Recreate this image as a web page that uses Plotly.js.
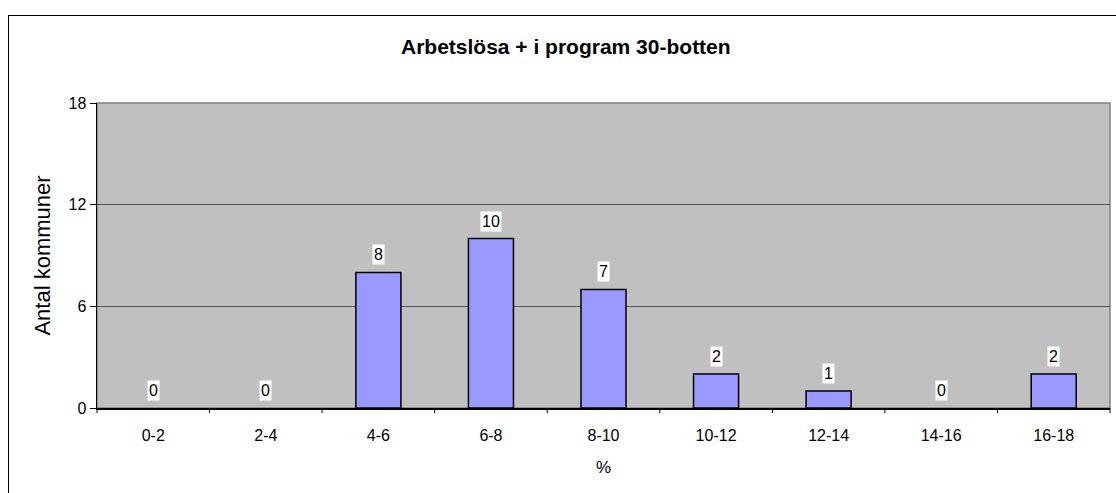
<!DOCTYPE html>
<html>
<head>
<meta charset="utf-8">
<script src="https://cdn.plot.ly/plotly-3.0.1.min.js"></script>
<style>
html,body{margin:0;padding:0;background:#fff;overflow:hidden;}
#chart{width:1116px;height:493px;position:relative;}
#frame{position:absolute;left:8px;top:15px;width:1300px;height:700px;border:1.5px solid #000;pointer-events:none;box-sizing:border-box;}
</style>
</head>
<body>
<div id="chart"></div>
<div id="frame"></div>
<script>
var categories = ["0-2","2-4","4-6","6-8","8-10","10-12","12-14","14-16","16-18"];
var counts = [0,0,8,10,7,2,1,0,2];
var yTicks = [0,6,12,18];

var FONT = 'Liberation Sans, Arial, sans-serif';

var trace = {
  type: 'bar',
  x: categories,
  y: counts,
  marker: {color: '#9999FF', line: {color: '#000', width: counts.map(function(v){ return v > 0 ? 1.5 : 0; })}},
  hoverinfo: 'none'
};

var annotations = categories.map(function(c, i){
  return {
    x: c, y: counts[i], xref: 'x', yref: 'y',
    text: String(counts[i]),
    showarrow: false,
    yanchor: 'bottom',
    yshift: 7,
    bgcolor: '#FFFFFF',
    borderpad: 1,
    font: {family: FONT, size: 16, color: '#000'}
  };
});

// small visible tick marks at the category boundaries
var tickShapes = [];
for (var b = 0; b <= categories.length; b++) {
  tickShapes.push({
    type: 'line', xref: 'paper', yref: 'paper',
    x0: b / categories.length, x1: b / categories.length,
    ysizemode: 'pixel', yanchor: 0, y0: 0, y1: -5,
    line: {color: '#000', width: 1}
  });
}

var layout = {
  width: 1116, height: 493,
  margin: {l: 97, r: 6, t: 103, b: 85},
  paper_bgcolor: '#FFFFFF',
  plot_bgcolor: '#C0C0C0',
  bargap: 0.6,
  showlegend: false,
  title: {text: '<b>Arbetslösa + i program 30-botten</b>', x: 0.507, xanchor: 'center', y: 0.905, yanchor: 'middle',
          font: {family: FONT, size: 21, color: '#000'}},
  xaxis: {
    type: 'category',
    range: [-0.5, categories.length - 0.5],
    ticks: 'outside', ticklen: 12, tickcolor: 'rgba(0,0,0,0)', tickwidth: 1,
    showline: true, linecolor: '#000', linewidth: 1.5,
    showgrid: false,
    tickfont: {family: FONT, size: 16, color: '#000'},
    title: {text: '%', font: {family: FONT, size: 17, color: '#000'}, standoff: 18}
  },
  yaxis: {
    range: [0, 18],
    tickvals: yTicks,
    ticktext: yTicks.map(String),
    ticks: 'outside', ticklen: 6, tickcolor: '#000', tickwidth: 1,
    showline: true, linecolor: '#000', linewidth: 1.5,
    showgrid: true, gridcolor: '#555555', gridwidth: 1,
    zeroline: false,
    tickfont: {family: FONT, size: 16, color: '#000'},
    title: {text: 'Antal kommuner', font: {family: FONT, size: 22, color: '#000'}, standoff: 12}
  },
  shapes: [{
    type: 'rect', xref: 'paper', yref: 'paper', x0: 0, x1: 1, y0: 0, y1: 1,
    line: {color: '#808080', width: 1.5}, layer: 'below'
  }].concat(tickShapes),
  annotations: annotations
};

Plotly.newPlot('chart', [trace], layout, {staticPlot: true, displayModeBar: false});
</script>
</body>
</html>
